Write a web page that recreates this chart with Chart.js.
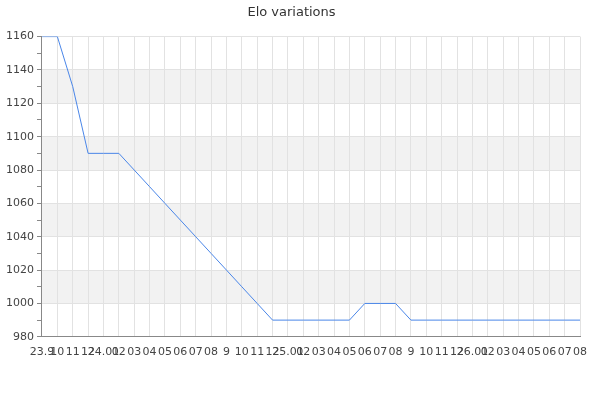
<!DOCTYPE html>
<html>
<head>
<meta charset="utf-8">
<script src="https://cdn.jsdelivr.net/npm/chart.js@4/dist/chart.umd.min.js"></script>
<style>
  html, body { margin: 0; padding: 0; background: #fff; }
  #wrap { width: 600px; height: 400px; }
</style>
</head>
<body>
<div id="wrap"><canvas id="elo-chart"></canvas></div>
<script>
const months = ['23.9', '10', '11', '12',
  '24.01', '02', '03', '04', '05', '06', '07', '08', '9', '10', '11', '12',
  '25.01', '02', '03', '04', '05', '06', '07', '08', '9', '10', '11', '12',
  '26.01', '02', '03', '04', '05', '06', '07', '08'];
const elo = [1160, 1160, 1130, 1090, 1090, 1090, 1080, 1070, 1060, 1050, 1040, 1030, 1020, 1010, 1000, 990,
  990, 990, 990, 990, 990, 1000, 1000, 1000, 990, 990, 990, 990, 990, 990, 990, 990, 990, 990, 990, 990];
const bandStarts = [1000, 1040, 1080, 1120];

Chart.defaults.font.family = 'DejaVu Sans';
Chart.defaults.font.size = 11;
Chart.defaults.color = '#444';

// grey stripes every other 20-point band
const stripes = {
  id: 'stripes',
  beforeDraw(chart) {
    const { ctx, chartArea, scales } = chart;
    ctx.save();
    ctx.fillStyle = '#f2f2f2';
    bandStarts.forEach(v => {
      const top = scales.y.getPixelForValue(v + 20);
      const bottom = scales.y.getPixelForValue(v);
      ctx.fillRect(chartArea.left, top, chartArea.right - chartArea.left, bottom - top);
    });
    ctx.restore();
  },
};

const eloChart = new Chart('elo-chart', {
  type: 'line',
  data: {
    labels: months,
    datasets: [{
      label: 'Elo',
      data: elo,
      borderColor: '#4a86e8',
      borderWidth: 1,
      pointRadius: 0,
      tension: 0,
      fill: false,
    }],
  },
  options: {
    responsive: true,
    maintainAspectRatio: false,
    animation: false,
    layout: { padding: { left: 3, right: 20, top: 2, bottom: 32 } },
    plugins: {
      legend: { display: false },
      tooltip: { enabled: false },
      title: {
        display: true,
        text: 'Elo variations',
        color: '#333',
        font: { size: 13, weight: 'normal' },
        padding: { top: 3, bottom: 16 },
      },
    },
    scales: {
      x: {
        offset: false,
        grid: { color: '#e2e2e2', drawTicks: false },
        border: { color: '#888' },
        ticks: { autoSkip: false, maxRotation: 0, minRotation: 0, padding: 9, color: '#444' },
      },
      y: {
        min: 980,
        max: 1160,
        grid: {
          color: c => (c.tick.value % 20 === 0 ? '#e2e2e2' : 'rgba(0,0,0,0)'),
          tickColor: '#888',
          tickLength: 5,
        },
        border: { color: '#888' },
        ticks: {
          stepSize: 10,
          padding: 3,
          color: '#444',
          callback: v => (v % 20 === 0 ? v : ''),
        },
      },
    },
  },
  plugins: [stripes],
});
</script>
</body>
</html>
